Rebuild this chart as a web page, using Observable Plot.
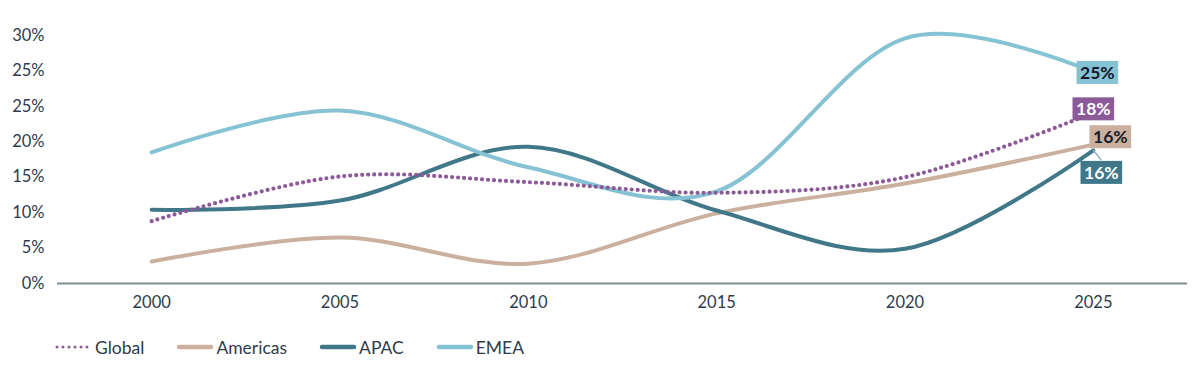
<!DOCTYPE html>
<html>
<head>
<meta charset="utf-8">
<script src="https://cdn.jsdelivr.net/npm/d3@7"></script>
<script src="https://cdn.jsdelivr.net/npm/@observablehq/plot@0.6"></script>
<style>
  html, body { margin: 0; padding: 0; background: #fff; }
  body { width: 1194px; height: 365px; overflow: hidden; font-family: Lato, "Open Sans", sans-serif; }
  #legend { display: flex; align-items: center; margin: 15px 0 0 55px; height: 20px; font-size: 17.5px; color: #2f3b4c; }
  #legend .item { display: flex; align-items: center; margin-right: 32px; }
  #legend svg { margin-right: 2px; }
</style>
</head>
<body>
<div id="chart"></div>
<div id="legend"></div>
<script>
// ---- data ----
const years = [2000, 2005, 2010, 2015, 2020, 2025];
const seriesNames = ["Global", "Americas", "APAC", "EMEA"];
const globalValues   = [8.8, 15.1, 14.3, 12.8, 15.0, 24.1];
const americasValues = [3.1, 6.5, 2.8, 9.9, 14.1, 19.6];
const apacValues     = [10.4, 11.7, 19.3, 10.3, 4.9, 18.8];
const emeaValues     = [18.5, 24.4, 16.4, 13.0, 34.6, 29.8];
const endLabels = ["18%", "16%", "16%", "25%"];
const yTicks = [0, 5, 10, 15, 20, 25, 30, 35];
const yTickLabels = ["0%", "5%", "10%", "15%", "20%", "25%", "25%", "30%"];

// ---- styles ----
const colors = { Global: "#8c5a99", Americas: "#cbb09f", APAC: "#40788a", EMEA: "#85c2d3" };
const labelText = { Global: "#ffffff", Americas: "#14192b", APAC: "#ffffff", EMEA: "#14192b" };
const labelOffset = { Global: [0, -3], Americas: [17, -7], APAC: [8, 23], EMEA: [4, 1] };

const valuesBySeries = { Global: globalValues, Americas: americasValues, APAC: apacValues, EMEA: emeaValues };
const rows = seriesNames.flatMap(s => years.map((yr, i) => ({ series: s, year: yr, value: valuesBySeries[s][i] })));
const last = seriesNames.map((s, k) => ({ series: s, year: years[years.length - 1], value: valuesBySeries[s][years.length - 1], label: endLabels[k] }));

const lineOrder = ["Americas", "APAC", "EMEA", "Global"];
const marks = [
  Plot.ruleY([0], { stroke: "#7f8b90", strokeWidth: 2 }),
  Plot.axisY(yTicks, { tickSize: 0, tickPadding: 13, label: null, tickFormat: d => yTickLabels[yTicks.indexOf(d)], fontSize: 16.5 }),
  Plot.axisX(years, { tickSize: 0, tickPadding: 13, label: null, tickFormat: d => String(d), fontSize: 16.5 })
];
for (const s of lineOrder) {
  const opts = { x: "year", y: "value", stroke: colors[s], strokeWidth: 4, curve: "cardinal", strokeLinecap: "round", strokeLinejoin: "round" };
  if (s === "Global") { opts.strokeDasharray = "0,6"; opts.strokeWidth = 4.2; }
  marks.push(Plot.line(rows.filter(r => r.series === s), opts));
}
// APAC leader line
marks.push(Plot.vector(last.filter(d => d.series === "APAC"), {
  x: "year", y: "value", length: 12, rotate: 141, anchor: "start", stroke: "#8fb0c8", strokeWidth: 1.5,
  shape: { draw(ctx, l) { ctx.moveTo(0, 0); ctx.lineTo(0, -l); } }
}));
for (const s of seriesNames) {
  marks.push(Plot.text(last.filter(d => d.series === s), {
    x: "year", y: "value", text: "label", dx: labelOffset[s][0], dy: labelOffset[s][1],
    fill: labelText[s], fontWeight: 700, fontSize: 17.5, ariaLabel: () => "endlabel-" + s
  }));
}

const chart = Plot.plot({
  width: 1194,
  height: 322,
  marginLeft: 57,
  marginRight: 7,
  marginTop: 35,
  marginBottom: 39,
  x: { domain: [1997.5, 2027.5], label: null },
  y: { domain: [0, 35], label: null },
  style: { fontFamily: "Lato, 'Open Sans', sans-serif", fontSize: "16px", color: "#2f3b4c", background: "#fff" },
  marks
});
document.getElementById("chart").append(chart);

// label boxes behind end labels
for (const s of seriesNames) {
  chart.querySelectorAll(`text[aria-label="endlabel-${s}"]`).forEach(t => {
    const b = t.getBBox();
    const rect = document.createElementNS("http://www.w3.org/2000/svg", "rect");
    const h = 23, w = b.width + 7;
    rect.setAttribute("x", b.x - 3.5);
    rect.setAttribute("y", b.y + b.height / 2 - h / 2);
    rect.setAttribute("width", w);
    rect.setAttribute("height", h);
    rect.setAttribute("fill", colors[s]);
    rect.setAttribute("stroke", "none");
    if (t.getAttribute("transform")) rect.setAttribute("transform", t.getAttribute("transform"));
    t.parentNode.insertBefore(rect, t);
  });
}

// legend
const legend = document.getElementById("legend");
for (const s of seriesNames) {
  const item = document.createElement("div");
  item.className = "item";
  const dotted = s === "Global";
  item.innerHTML = `<svg width="38" height="8"><line x1="${dotted ? 2 : 3}" x2="${dotted ? 36 : 35}" y1="4" y2="4" stroke="${colors[s]}" stroke-width="${dotted ? 3 : 4.5}" stroke-linecap="round" ${dotted ? 'stroke-dasharray="0,6"' : ""}/></svg><span>${s}</span>`;
  legend.append(item);
}
</script>
</body>
</html>
